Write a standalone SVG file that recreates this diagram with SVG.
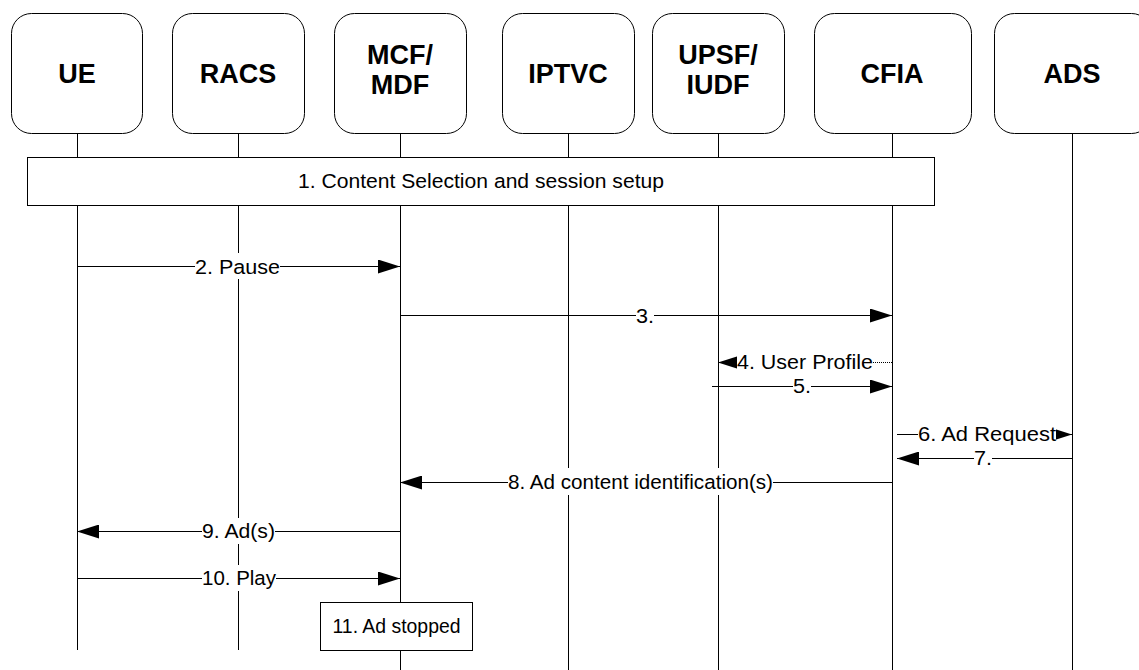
<svg xmlns="http://www.w3.org/2000/svg" width="1139" height="670" viewBox="0 0 1139 670">
<style>
.box{fill:#fff;stroke:#000;stroke-width:1}
.hdr{font-family:"Liberation Sans",Arial,sans-serif;font-weight:bold;font-size:27px;text-anchor:middle;fill:#000}
.life{stroke:#000;stroke-width:1;fill:none}
.msg{stroke:#000;stroke-width:1;fill:none}
.lbl{font-family:"Liberation Sans",Arial,sans-serif;font-size:20.5px;text-anchor:middle;fill:#000}
.bg{fill:#fff;stroke:none}
</style>
<defs>
<marker id="ah" markerWidth="22" markerHeight="14" refX="22" refY="7" orient="auto" markerUnits="userSpaceOnUse">
<path d="M0,0 L22,7 L0,14 z" fill="#000"/>
</marker>
</defs>
<rect width="1139" height="670" fill="#fff"/>

<g id="lifelines">
<line class="life" x1="77.5" y1="133" x2="77.5" y2="650"/>
<line class="life" x1="238.5" y1="133" x2="238.5" y2="650"/>
<line class="life" x1="400.5" y1="133" x2="400.5" y2="670"/>
<line class="life" x1="568.5" y1="133" x2="568.5" y2="670"/>
<line class="life" x1="718.5" y1="133" x2="718.5" y2="670"/>
<line class="life" x1="892.5" y1="133" x2="892.5" y2="670"/>
<line class="life" x1="1072.5" y1="133" x2="1072.5" y2="670"/>
</g>

<g id="UE"><rect class="box" x="11.5" y="13.5" width="131" height="120" rx="20"/><text class="hdr" x="77" y="83">UE</text></g>
<g id="RACS"><rect class="box" x="172.5" y="13.5" width="132" height="120" rx="20"/><text class="hdr" x="238" y="83">RACS</text></g>
<g id="MCF"><rect class="box" x="334.5" y="13.5" width="132" height="120" rx="20"/><text class="hdr" x="400" y="64">MCF/</text><text class="hdr" x="400" y="94">MDF</text></g>
<g id="IPTVC"><rect class="box" x="502.5" y="13.5" width="132" height="120" rx="20"/><text class="hdr" x="568" y="83">IPTVC</text></g>
<g id="UPSF"><rect class="box" x="652.5" y="13.5" width="132" height="120" rx="20"/><text class="hdr" x="718" y="64">UPSF/</text><text class="hdr" x="718" y="94">IUDF</text></g>
<g id="CFIA"><rect class="box" x="814.5" y="13.5" width="157" height="120" rx="20"/><text class="hdr" x="892" y="83">CFIA</text></g>
<g id="ADS"><rect class="box" x="994.5" y="13.5" width="157" height="120" rx="20"/><text class="hdr" x="1072" y="83">ADS</text></g>

<g id="step1"><rect class="box" x="27.5" y="157.5" width="907" height="48"/><text class="lbl" x="481" y="188" textLength="366" lengthAdjust="spacingAndGlyphs">1. Content Selection and session setup</text></g>

<g id="connectors">
<g id="m2"><line class="msg" x1="77" y1="266.5" x2="400" y2="266.5" marker-end="url(#ah)"/><rect class="bg" x="195" y="253" width="85" height="26"/><text class="lbl" x="237.5" y="274" textLength="85" lengthAdjust="spacingAndGlyphs">2. Pause</text></g>
<g id="m3"><line class="msg" x1="400" y1="315.5" x2="892" y2="315.5" marker-end="url(#ah)"/><rect class="bg" x="636" y="302" width="18" height="26"/><text class="lbl" x="645" y="323" textLength="18" lengthAdjust="spacingAndGlyphs">3.</text></g>
<g id="m4"><line class="msg" x1="892" y1="362.5" x2="718" y2="362.5" stroke-dasharray="1,1" stroke="#666" marker-end="url(#ah)"/><rect class="bg" x="737" y="351" width="136" height="22"/><text class="lbl" x="805" y="369" textLength="136" lengthAdjust="spacingAndGlyphs">4. User Profile</text></g>
<g id="m5"><line class="msg" x1="712" y1="386.5" x2="892" y2="386.5" marker-end="url(#ah)"/><rect class="bg" x="793" y="376" width="18" height="22"/><text class="lbl" x="802" y="393" textLength="18" lengthAdjust="spacingAndGlyphs">5.</text></g>
<g id="m6"><line class="msg" x1="897" y1="434.5" x2="1072" y2="434.5" marker-end="url(#ah)"/><rect class="bg" x="918" y="423" width="138" height="22"/><text class="lbl" x="987" y="441" textLength="138" lengthAdjust="spacingAndGlyphs">6. Ad Request</text></g>
<g id="m7"><line class="msg" x1="1072" y1="458.5" x2="897" y2="458.5" marker-end="url(#ah)"/><rect class="bg" x="974" y="448" width="18" height="22"/><text class="lbl" x="983" y="465" textLength="18" lengthAdjust="spacingAndGlyphs">7.</text></g>
<g id="m8"><line class="msg" x1="892" y1="482.5" x2="400" y2="482.5" marker-end="url(#ah)"/><rect class="bg" x="508" y="468" width="265" height="27"/><text class="lbl" x="640.5" y="489" textLength="265" lengthAdjust="spacingAndGlyphs">8. Ad content identification(s)</text></g>
<g id="m9"><line class="msg" x1="400" y1="531.5" x2="77" y2="531.5" marker-end="url(#ah)"/><rect class="bg" x="202" y="518" width="73" height="26"/><text class="lbl" x="238.5" y="538" textLength="73" lengthAdjust="spacingAndGlyphs">9. Ad(s)</text></g>
<g id="m10"><line class="msg" x1="77" y1="578.5" x2="400" y2="578.5" marker-end="url(#ah)"/><rect class="bg" x="202" y="565" width="74" height="26"/><text class="lbl" x="239" y="585" textLength="74" lengthAdjust="spacingAndGlyphs">10. Play</text></g>
</g>

<g id="step11"><rect class="box" x="320.5" y="602.5" width="152" height="48"/><text class="lbl" x="396.5" y="633" textLength="128" lengthAdjust="spacingAndGlyphs">11. Ad stopped</text></g>
</svg>
